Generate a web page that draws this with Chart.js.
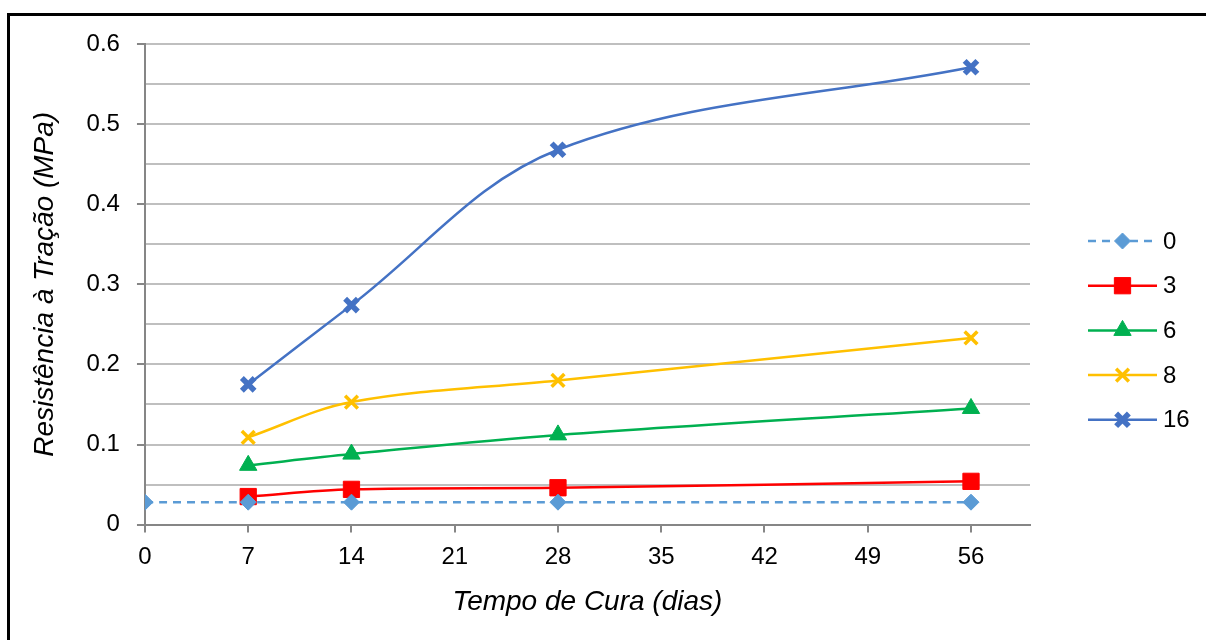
<!DOCTYPE html>
<html>
<head>
<meta charset="utf-8">
<script src="https://cdn.jsdelivr.net/npm/chart.js@4/dist/chart.umd.min.js"></script>
<style>
  html, body { margin: 0; padding: 0; background: #fff; overflow: hidden; }
  #wrap { position: relative; width: 1206px; height: 640px; }
  #frame { position: absolute; left: 7px; top: 13px; width: 1300px; height: 700px; border: 3px solid #000; box-sizing: border-box; }
  canvas { position: absolute; left: 0; top: 0; }
</style>
</head>
<body>
<div id="wrap">
  <div id="frame"></div>
  <canvas id="chart" width="1206" height="640"></canvas>
</div>
<script>
// curing time (days)
const days0 = [0, 7, 14, 28, 56];
const days = [7, 14, 28, 56];

// tensile strength (MPa) per content
const s0 = [0.028, 0.028, 0.028, 0.028, 0.028];
const s3 = [0.035, 0.044, 0.046, 0.054];
const s6 = [0.074, 0.088, 0.112, 0.145];
const s8 = [0.109, 0.153, 0.180, 0.233];
const s16 = [0.175, 0.274, 0.468, 0.571];

const seriesLabels = ['0', '3', '6', '8', '16'];

const pts = (xs, ys) => xs.map((x, i) => ({ x: x, y: ys[i] }));

const font = "'Liberation Sans', Arial, sans-serif";

// legend drawn as line + marker like the spreadsheet legend
const lineLegend = {
  id: 'lineLegend',
  afterDraw(chart) {
    const ctx = chart.ctx;
    const area = chart.chartArea;
    const x0 = area.right + 58;
    const x1 = x0 + 69;
    const y0 = area.top + 197;
    const gap = 44.7;
    chart.data.datasets.forEach((ds, i) => {
      const y = y0 + i * gap;
      ctx.save();
      ctx.strokeStyle = ds.borderColor;
      ctx.fillStyle = ds.borderColor;
      ctx.lineWidth = ds.borderWidth;
      ctx.setLineDash(ds.borderDash || []);
      ctx.beginPath();
      ctx.moveTo(x0, y);
      ctx.lineTo(x1, y);
      ctx.stroke();
      ctx.setLineDash([]);
      ctx.lineWidth = ds.pointBorderWidth;
      Chart.helpers.drawPoint(ctx, {
        pointStyle: ds.pointStyle,
        radius: ds.pointRadius,
        borderWidth: ds.pointBorderWidth
      }, (x0 + x1) / 2, y);
      ctx.restore();
      ctx.save();
      ctx.fillStyle = '#000';
      ctx.font = '24px ' + font;
      ctx.textBaseline = 'middle';
      ctx.fillText(ds.label, x1 + 6, y + 1);
      ctx.restore();
    });
  }
};

function makeDs(label, data, color, style, radius, bw, dash) {
  return {
    label: label,
    data: data,
    borderColor: color,
    backgroundColor: color,
    pointBackgroundColor: color,
    pointBorderColor: color,
    borderWidth: 2.5,
    borderDash: dash,
    pointStyle: style,
    pointRadius: radius,
    pointHoverRadius: radius,
    pointBorderWidth: bw,
    tension: 0.35,
    fill: false
  };
}

new Chart(document.getElementById('chart'), {
  type: 'line',
  data: {
    datasets: [
      makeDs(seriesLabels[0], pts(days0, s0), '#5b9bd5', 'rectRot', 8, 1, [8, 6]),
      makeDs(seriesLabels[1], pts(days, s3), '#ff0000', 'rect', 11.5, 1),
      makeDs(seriesLabels[2], pts(days, s6), '#00b050', 'triangle', 10, 1),
      makeDs(seriesLabels[3], pts(days, s8), '#ffc000', 'crossRot', 9, 3.5),
      makeDs(seriesLabels[4], pts(days, s16), '#4472c4', 'crossRot', 9, 5.5)
    ]
  },
  options: {
    responsive: false,
    animation: false,
    plugins: {
      legend: { display: false },
      tooltip: { enabled: false }
    },
    layout: { padding: { left: 28, top: 44, right: 176, bottom: 21 } },
    scales: {
      x: {
        type: 'linear',
        min: 0,
        max: 60,
        ticks: {
          stepSize: 7,
          includeBounds: false,
          color: '#000',
          font: { family: font, size: 24 },
          padding: 10
        },
        grid: {
          drawOnChartArea: false,
          drawTicks: true,
          tickLength: 8,
          tickColor: '#868686',
          lineWidth: 2
        },
        border: { color: '#868686', width: 2 },
        title: {
          display: true,
          text: 'Tempo de Cura (dias)',
          color: '#000',
          font: { family: font, size: 28, style: 'italic' },
          padding: { top: 4, bottom: 0 }
        }
      },
      y: {
        min: 0,
        max: 0.6,
        ticks: {
          stepSize: 0.05,
          color: '#000',
          font: { family: font, size: 24 },
          padding: 17,
          callback: function (v) {
            const k = Math.round(v * 100);
            if (k % 10 !== 0) return '';
            return k === 0 ? '0' : (k / 100).toFixed(1);
          }
        },
        grid: {
          color: '#bfbfbf',
          lineWidth: 2,
          tickLength: 8,
          tickColor: function (c) {
            return Math.round(c.tick.value * 100) % 10 === 0 ? '#868686' : 'rgba(0,0,0,0)';
          }
        },
        border: { color: '#868686', width: 2 },
        title: {
          display: true,
          text: 'Resistência à Tração (MPa)',
          color: '#000',
          font: { family: font, size: 28, style: 'italic' },
          padding: { top: 0, bottom: 8 }
        }
      }
    }
  },
  plugins: [lineLegend]
});
</script>
</body>
</html>
